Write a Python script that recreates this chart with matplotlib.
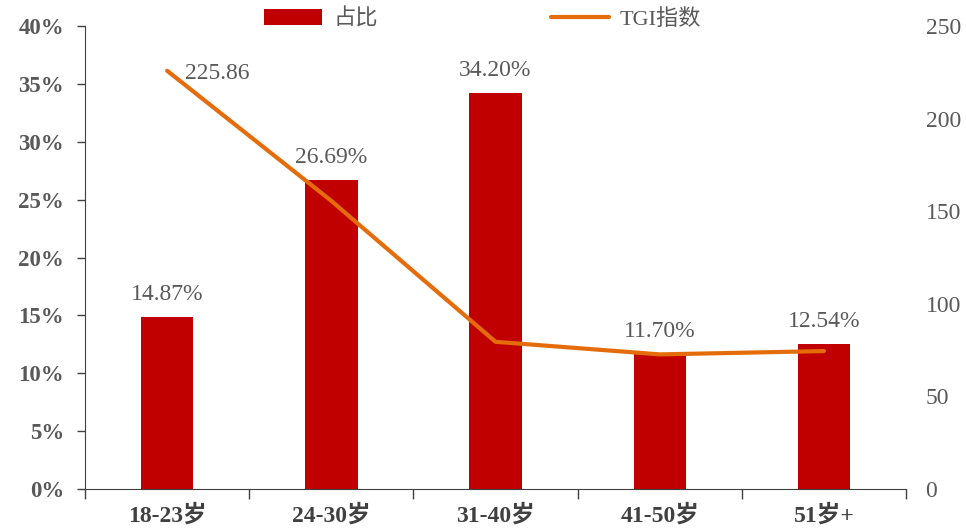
import numpy as np
import matplotlib.pyplot as plt
from matplotlib.ticker import FixedLocator, PercentFormatter

plt.rcParams['font.family'] = ['Liberation Serif', 'Noto Sans CJK SC']

# age groups, share of users (%) and TGI index
groups = ['18-23岁', '24-30岁', '31-40岁', '41-50岁', '51岁+']
share = [14.87, 26.69, 34.20, 11.70, 12.54]
tgi = [225.86, 155.6, 79.5, 72.7, 74.5]

bar_color = '#C00000'
line_color = '#E46C0A'
text_color = '#595959'

fig = plt.figure(figsize=(9.66, 5.31), dpi=100)
ax = fig.add_axes([0.088, 0.079, 0.85, 0.872])
ax2 = ax.twinx()

x = np.arange(len(groups))
bars = ax.bar(x, share, width=0.32, color=bar_color, label='占比', zorder=2)
line, = ax2.plot(x, tgi, color=line_color, lw=3, label='TGI指数',
                 solid_capstyle='round', zorder=3)

ax.set_xlim(-0.5, len(groups) - 0.5)
ax.set_ylim(0, 40)
ax2.set_ylim(0, 250)
ax.set_zorder(ax2.get_zorder() - 1)
ax2.patch.set_visible(False)

# left axis: percentages
ax.set_yticks(np.arange(0, 41, 5))
ax.yaxis.set_major_formatter(PercentFormatter(decimals=0))
for lab in ax.get_yticklabels():
    lab.set_fontweight('bold')
    lab.set_fontsize(16.5)
    lab.set_color(text_color)
ax.tick_params(axis='y', length=6, width=1, color='#404040', pad=9)

# bottom axis: ticks at group boundaries, labels between them
ax.xaxis.set_major_locator(FixedLocator(np.arange(len(groups) + 1) - 0.5))
ax.xaxis.set_minor_locator(FixedLocator(x))
ax.set_xticklabels([], minor=False)
ax.set_xticklabels(groups, minor=True, fontsize=17, fontweight='bold', color='#404040')
ax.tick_params(axis='x', which='major', length=7, width=1, color='#404040', direction='out')
ax.tick_params(axis='x', which='minor', length=0, pad=11)

# right axis: labels only
ax2.set_yticks(np.arange(0, 251, 50))
ax2.tick_params(axis='y', length=0, pad=14, labelsize=17, labelcolor=text_color)

for a in (ax, ax2):
    a.spines['top'].set_visible(False)
    a.spines['right'].set_visible(False)
ax2.spines['left'].set_visible(False)
ax2.spines['bottom'].set_visible(False)
ax.spines['left'].set_color('#404040')
ax.spines['bottom'].set_color('#404040')

# value labels
for xi, v in zip(x, share):
    ax.annotate(f'{v:.2f}%', (xi, v), xytext=(0, 16), textcoords='offset points',
                ha='center', va='center', fontsize=17, color=text_color)
ax2.annotate(f'{tgi[0]:.2f}', (x[0], tgi[0]), xytext=(13, -2), textcoords='offset points',
             ha='left', va='center', fontsize=17, color=text_color)

fig.legend(handles=[bars, line], loc='center', bbox_to_anchor=(0.5, 0.964), ncol=2,
           frameon=False, fontsize=16, handlelength=2.6, columnspacing=7.8,
           labelcolor=text_color, handletextpad=0.5)

fig.savefig('out.png', dpi=100)
